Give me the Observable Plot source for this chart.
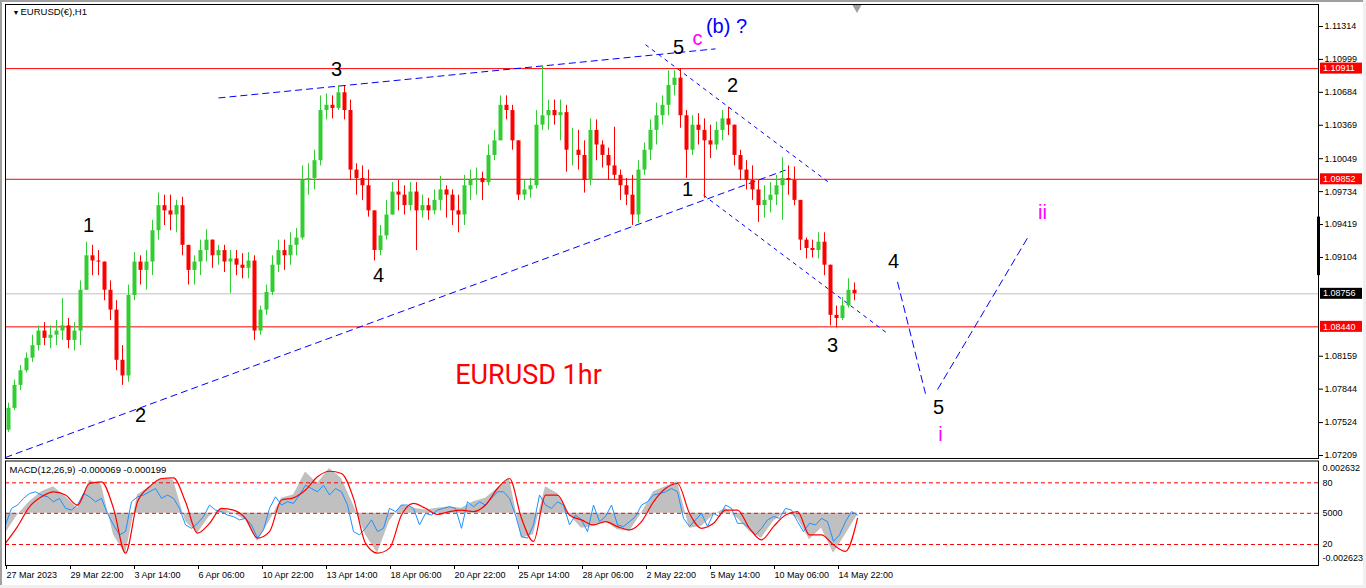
<!DOCTYPE html>
<html><head><meta charset="utf-8">
<script src="https://cdn.jsdelivr.net/npm/d3@7"></script>
<script src="https://cdn.jsdelivr.net/npm/@observablehq/plot@0.6"></script>
<style>
html,body{margin:0;padding:0;background:#fff;width:1366px;height:588px;overflow:hidden;font-family:"Liberation Sans",Arial,sans-serif;}
#wrap{position:relative;width:1366px;height:588px;}
#main{position:absolute;left:0;top:0;}
#macd{position:absolute;left:0;top:460px;}
.edge{position:absolute;}
</style></head><body>
<div id="wrap"><div id="main"></div><div id="macd"></div>
<div class="edge" style="left:0;top:0;width:1366px;height:2px;background:#a0a0a0"></div>
<div class="edge" style="left:0;top:0;width:2px;height:588px;background:#a0a0a0"></div>
<div class="edge" style="left:1363px;top:0;width:3px;height:588px;background:#f0f0f0"></div>
<div class="edge" style="left:0;top:585px;width:1366px;height:3px;background:#f0f0f0"></div>
</div>
<script>
// ---------- DATA ----------
const BARS_PER_CANDLE = 6;           // each drawn candle summarises 6 hourly bars
const firstOpen = 1.0745;
const candleHigh = [
1.0771,1.0793,1.0807,1.0819,1.0836,1.0845,1.0848,1.0845,1.0850,1.0871,
1.0852,1.0848,1.0888,1.0925,1.0922,1.0917,1.0906,1.0888,1.0869,1.0826,
1.0884,1.0915,1.0912,1.0917,1.0946,1.0972,1.0970,1.0970,1.0965,1.0968,
1.0922,1.0912,1.0927,1.0937,1.0924,1.0922,1.0922,1.0917,1.0917,1.0914,
1.0915,1.0912,1.0864,1.0884,1.0912,1.0927,1.0927,1.0934,1.0938,1.0998,
1.1000,1.1013,1.1065,1.1067,1.1065,1.1075,1.1074,1.1061,1.1000,1.0998,
1.0994,1.0955,1.0941,1.0965,1.0982,1.0984,1.0979,1.0982,1.0982,1.0970,
1.0967,1.0975,1.0988,1.0979,1.0975,1.0970,1.0989,1.0994,1.0996,1.0992,
1.1018,1.1032,1.1065,1.1065,1.1056,1.1022,1.0984,1.0986,1.1051,1.1094,
1.1061,1.1061,1.1061,1.1056,1.1034,1.1032,1.1022,1.1043,1.1042,1.1022,
1.1015,1.1035,1.0994,1.0986,1.0989,1.1003,1.1020,1.1042,1.1058,1.1065,
1.1089,1.1089,1.1091,1.1051,1.1046,1.1048,1.1043,1.1037,1.1040,1.1051,
1.1054,1.1034,1.1013,1.1003,1.0998,1.0984,1.0979,1.0982,1.0989,1.1006,
1.0998,1.0997,1.0965,1.0929,1.0927,1.0934,1.0934,1.0903,1.0864,1.0872,
1.0890,1.0886];
const candleLow = [
1.0743,1.0764,1.0783,1.0800,1.0810,1.0821,1.0826,1.0823,1.0826,1.0831,
1.0823,1.0821,1.0826,1.0879,1.0893,1.0893,1.0869,1.0850,1.0802,1.0788,
1.0791,1.0869,1.0884,1.0879,1.0893,1.0927,1.0941,1.0936,1.0934,1.0912,
1.0884,1.0884,1.0893,1.0906,1.0900,1.0903,1.0896,1.0876,1.0893,1.0890,
1.0890,1.0831,1.0836,1.0855,1.0874,1.0896,1.0898,1.0903,1.0912,1.0927,
1.0970,1.0975,1.0998,1.1042,1.1043,1.1051,1.1042,1.0984,1.0970,1.0965,
1.0949,1.0907,1.0912,1.0927,1.0951,1.0955,1.0951,1.0955,1.0917,1.0948,
1.0946,1.0951,1.0955,1.0948,1.0941,1.0934,1.0941,1.0965,1.0970,1.0965,
1.0979,1.1003,1.1022,1.1042,1.1013,1.0965,1.0965,1.0967,1.0976,1.1032,
1.1032,1.1037,1.1022,1.0992,1.0998,1.0994,1.0972,1.0979,1.1003,1.0996,
1.0984,1.0984,1.0965,1.0960,1.0941,1.0943,1.0989,1.1003,1.1018,1.1037,
1.1046,1.1065,1.1034,1.0986,1.1008,1.1018,1.0967,1.1005,1.1013,1.1022,
1.1027,1.0998,1.0984,1.0975,1.0965,1.0944,1.0948,1.0953,1.0960,1.0946,
1.0970,1.0960,1.0917,1.0909,1.0910,1.0909,1.0893,1.0845,1.0843,1.0850,
1.0862,1.0869];
const candleClose = [
1.0766,1.0788,1.0802,1.0814,1.0826,1.0840,1.0833,1.0836,1.0840,1.0845,
1.0831,1.0840,1.0879,1.0912,1.0907,1.0906,1.0879,1.0860,1.0812,1.0797,
1.0874,1.0906,1.0898,1.0906,1.0936,1.0960,1.0955,1.0951,1.0960,1.0922,
1.0898,1.0906,1.0917,1.0927,1.0912,1.0917,1.0906,1.0909,1.0903,1.0900,
1.0907,1.0840,1.0860,1.0877,1.0903,1.0917,1.0912,1.0922,1.0929,1.0984,
1.0986,1.1003,1.1051,1.1056,1.1053,1.1068,1.1051,1.0994,1.0986,1.0979,
1.0955,1.0917,1.0931,1.0951,1.0973,1.0970,1.0960,1.0973,1.0955,1.0960,
1.0955,1.0965,1.0975,1.0970,1.0955,1.0951,1.0979,1.0984,1.0986,1.0982,
1.1008,1.1022,1.1056,1.1051,1.1022,1.0970,1.0975,1.0979,1.1037,1.1046,
1.1051,1.1046,1.1049,1.1013,1.1013,1.1008,1.0984,1.1032,1.1018,1.1008,
1.0998,1.0989,1.0979,1.0970,1.0951,1.0994,1.1013,1.1032,1.1046,1.1056,
1.1075,1.1082,1.1046,1.1013,1.1037,1.1032,1.1022,1.1018,1.1032,1.1043,
1.1037,1.1008,1.0994,1.0984,1.0975,1.0960,1.0965,1.0970,1.0979,1.0986,
1.0984,1.0965,1.0927,1.0919,1.0917,1.0925,1.0903,1.0855,1.0852,1.0864,
1.0879,1.08756];

// MACD panel: histogram (every 12 bars), signal (every 12 bars), fast line (every 6 bars)
const histStep = 12;
const histVals = [
-0.00115,-0.00010,0.00067,0.00125,0.00154,0.00096,0.00029,0.00192,0.00163,-0.00125,
-0.00240,0.00106,0.00154,0.00202,0.00192,-0.00048,-0.00115,-0.00019,0.00029,0.00000,
-0.00038,-0.00163,-0.00048,0.00087,0.00106,0.00240,0.00173,0.00260,0.00202,0.00048,
-0.00125,-0.00231,-0.00048,0.00048,0.00029,0.00019,0.00029,0.00038,0.00029,0.00067,
0.00087,0.00144,0.00202,-0.00144,-0.00125,0.00154,0.00115,-0.00010,-0.00087,-0.00077,
-0.00048,-0.00096,-0.00106,0.00000,0.00125,0.00154,0.00183,-0.00087,-0.00077,-0.00010,
0.00029,-0.00029,-0.00106,-0.00144,-0.00048,0.00010,-0.00029,-0.00154,-0.00087,-0.00231,
-0.00125,-0.00010];
const signalVals = [
-0.00173,-0.00077,0.00038,0.00096,0.00125,0.00106,0.00048,0.00173,0.00183,0.00029,
-0.00231,0.00067,0.00154,0.00202,0.00206,0.00067,-0.00115,-0.00058,0.00029,0.00019,
-0.00029,-0.00144,-0.00106,0.00077,0.00090,0.00135,0.00212,0.00244,0.00231,0.00087,
-0.00173,-0.00231,-0.00202,-0.00010,0.00058,0.00029,-0.00006,0.00010,0.00019,0.00010,
0.00048,0.00144,0.00202,-0.00029,-0.00163,0.00106,0.00106,-0.00010,-0.00038,-0.00067,
-0.00048,-0.00077,-0.00096,-0.00048,0.00067,0.00144,0.00173,0.00000,-0.00087,-0.00058,
0.00019,0.00019,-0.00087,-0.00154,-0.00077,-0.00010,0.00010,-0.00125,-0.00125,-0.00183,
-0.00221,-0.00029];
const blueStep = 6;
const blueVals = [
-0.00067,0.00029,0.00048,0.00087,0.00115,0.00125,0.00106,0.00096,0.00067,0.00087,
0.00029,0.00019,0.00048,0.00115,0.00096,0.00067,0.00087,0.00000,-0.00067,-0.00125,
-0.00106,0.00067,0.00096,0.00106,0.00125,0.00144,0.00087,0.00106,0.00087,0.00029,
-0.00067,-0.00087,-0.00058,-0.00019,0.00048,0.00019,0.00010,-0.00010,-0.00019,-0.00038,
-0.00029,-0.00067,-0.00144,-0.00096,0.00029,0.00096,0.00048,0.00067,0.00058,0.00106,
0.00163,0.00144,0.00125,0.00163,0.00106,0.00144,0.00125,0.00048,-0.00106,-0.00125,
-0.00087,-0.00038,-0.00106,-0.00087,0.00029,0.00010,0.00048,0.00048,0.00029,-0.00067,
0.00000,-0.00010,0.00019,0.00029,0.00038,0.00029,-0.00087,0.00067,0.00038,0.00067,
0.00048,0.00087,0.00125,0.00125,0.00087,-0.00010,-0.00135,-0.00144,-0.00067,0.00106,
0.00048,0.00029,0.00067,0.00048,-0.00067,-0.00010,-0.00038,-0.00106,0.00048,-0.00048,
-0.00019,0.00048,-0.00067,-0.00077,-0.00048,-0.00019,0.00048,0.00067,0.00106,0.00115,
0.00125,0.00144,0.00125,-0.00029,-0.00077,-0.00038,0.00000,-0.00077,0.00000,-0.00019,
0.00048,0.00029,-0.00058,-0.00058,-0.00087,-0.00125,-0.00087,-0.00038,-0.00019,-0.00029,
0.00029,0.00019,-0.00048,-0.00106,-0.00058,-0.00067,-0.00029,-0.00048,-0.00163,-0.00125,
-0.00048,0.00010,-0.00010];
const macdLevels = [0.00177, 0, -0.00181];
const macdTickVals = [0.002632, 0.00177, 0, -0.00181, -0.002623];
const macdTickLabels = ["0.002632", "80", "5000", "20", "-0.002623"];

// axes (1.08789 and 1.08474 are hidden behind the price tags in the reference)
const priceTicks = [1.11314,1.10999,1.10684,1.10369,1.10049,1.09734,1.09419,1.09104,1.08159,1.07844,1.07524,1.07209];
const dateTicks = [0,64,128,192,256,320,384,448,512,576,640,704,768,832];
const dateLabels = ["27 Mar 2023","29 Mar 22:00","3 Apr 14:00","6 Apr 06:00","10 Apr 22:00","13 Apr 14:00","18 Apr 06:00","20 Apr 22:00","25 Apr 14:00","28 Apr 06:00","2 May 22:00","5 May 14:00","10 May 06:00","14 May 22:00"];

// horizontal levels
const redLevels = [1.10911, 1.09852, 1.08440];
const lastPrice = 1.08756;
const priceTags = [
  {v:1.10911, bg:"#ff0000"}, {v:1.09852, bg:"#ff0000"},
  {v:1.08756, bg:"#000000"}, {v:1.08440, bg:"#ff0000"}];
const scrollMarker = [1.0949, 1.0893];

// wave annotations (bar index, price)
const waveText  = ["3","5","c","(b) ?","2","1","1","4","2","3","4","5","i","ii"];
const waveBar   = [331,673,692,721,727,83,682,373,135,827,888,933,935,1037];
const wavePrice = [1.1090,1.1111,1.1120,1.1131,1.1075,1.0941,1.0975,1.0893,1.0759,1.0826,1.0906,1.0767,1.0741,1.0953];
const waveColor = ["#000","#000","#ff00ff","#0000ff","#000","#000","#000","#000","#000","#000","#000","#000","#ff00ff","#ff00ff"];

// trend lines (bar index, price)
const lineBar1   = [213, 0,   640, 698, 892, 932];
const linePrice1 = [1.1063,1.0719,1.1114,1.0970,1.0887,1.0784];
const lineBar2   = [710, 780, 825, 883, 920, 1022];
const linePrice2 = [1.1110,1.0994,1.0981,1.0837,1.0780,1.0929];
const lineDash   = ["7,4","7,4","4,4","4,4","8,4","8,4"];

// ---------- BUILD ----------
const GREEN = "#32cd32", RED = "#ff0000";
const candles = candleClose.map((c, k) => {
  const o = k === 0 ? firstOpen : candleClose[k - 1];
  return {x: k * BARS_PER_CANDLE + BARS_PER_CANDLE / 2, open: o, close: c,
    high: Math.max(candleHigh[k], o, c), low: Math.min(candleLow[k], o, c), up: c >= o};
});
const waves = waveText.map((t, i) => ({t, x: waveBar[i], y: wavePrice[i], c: waveColor[i]}));
const tlines = lineBar1.map((b, i) => ({x1: b, y1: linePrice1[i], x2: lineBar2[i], y2: linePrice2[i], d: lineDash[i]}));
const font = "Liberation Sans, Arial, sans-serif";
const linkOpts = d => ({x1: "x1", y1: "y1", x2: "x2", y2: "y2", stroke: "#0000ff", strokeWidth: 1, strokeDasharray: d});

const main = Plot.plot({
  width: 1366, height: 460,
  marginLeft: 5, marginRight: 48, marginTop: 4, marginBottom: 2,
  x: {domain: [0, 1313], axis: null},
  y: {domain: [1.071803, 1.115245], axis: null},
  style: {fontFamily: font, fontSize: "9px", background: "transparent", overflow: "visible"},
  marks: [
    Plot.ruleY(redLevels, {stroke: RED, strokeWidth: 1}),
    Plot.ruleY([lastPrice], {stroke: "#c0c0c0", strokeWidth: 1}),
    ...lineDash.filter((d, i, a) => a.indexOf(d) === i).map(d => Plot.link(tlines.filter(t => t.d === d), linkOpts(d))),
    Plot.ruleX(candles, {x: "x", y1: "low", y2: "high", stroke: d => d.up ? GREEN : RED, strokeWidth: 1}),
    Plot.ruleX(candles, {x: "x", y1: "open", y2: "close", stroke: d => d.up ? GREEN : RED, strokeWidth: 4}),
    Plot.text(waves, {x: "x", y: "y", text: "t", fill: "c", fontSize: 20, fontFamily: font}),
    Plot.text(["EURUSD 1hr"], {x: 523, y: 1.0798, text: d => d, fill: RED, fontSize: 27, fontFamily: "Roboto, sans-serif"}),
    Plot.text(["▼"], {frameAnchor: "top-left", dx: 7, dy: 6, text: d => d, fontSize: 7, lineAnchor: "top"}),
    Plot.text(["EURUSD(€),H1"], {frameAnchor: "top-left", dx: 15, dy: 4, text: d => d, fontSize: 9.5, textAnchor: "start", lineAnchor: "top"}),
    Plot.dot([0], {frameAnchor: "top", dx: 195, dy: 3, symbol: "triangle", r: 3.5, rotate: 180, fill: "#a0a0a0", stroke: null}),
    Plot.frame({stroke: "#000"}),
    Plot.axisY(priceTicks, {anchor: "right", tickSize: 4, tickPadding: 2, tickFormat: d => d.toFixed(5), label: null})
  ]
});
document.getElementById("main").appendChild(main);

// price tags + scroll marker on right scale
{
  const ys = main.scale("y");
  const svg = d3.select(main);
  const g = svg.append("g").attr("text-anchor", "start");
  priceTags.forEach(t => {
    const y = ys.apply(t.v);
    g.append("rect").attr("x", 1320).attr("y", y - 5.5).attr("width", 42).attr("height", 11).attr("fill", t.bg);
    g.append("text").attr("x", 1323).attr("y", y).attr("dy", "0.35em").attr("fill", "#fff")
      .attr("text-anchor", "start").attr("font-size", 9).attr("font-family", font).text(t.v.toFixed(5));
  });
  g.append("rect").attr("x", 1317).attr("y", ys.apply(scrollMarker[0])).attr("width", 3)
    .attr("height", ys.apply(scrollMarker[1]) - ys.apply(scrollMarker[0])).attr("fill", "#000");
}

const histData = histVals.map((v, j) => ({x: j * histStep, v}));
const sigData = signalVals.map((v, j) => ({x: j * histStep, v}));
const blueData = blueVals.map((v, i) => ({x: i * blueStep, v}));

const macd = Plot.plot({
  width: 1366, height: 128,
  marginLeft: 5, marginRight: 48, marginTop: 0.5, marginBottom: 23,
  x: {domain: [0, 1313], axis: null},
  y: {domain: [-0.003027, 0.003036], axis: null},
  style: {fontFamily: font, fontSize: "9px", background: "transparent", overflow: "visible"},
  marks: [
    Plot.areaY(histData, {x: "x", y: "v", fill: "#c0c0c0"}),
    Plot.ruleY(macdLevels, {stroke: RED, strokeDasharray: "4,3", strokeWidth: 1}),
    Plot.line(blueData, {x: "x", y: "v", stroke: "#1e90ff", strokeWidth: 1}),
    Plot.line(sigData, {x: "x", y: "v", stroke: RED, strokeWidth: 1.2, curve: "monotone-x"}),
    Plot.text(["MACD(12,26,9) -0.000069 -0.000199"], {frameAnchor: "top-left", dx: 4, dy: 5, text: d => d, fontSize: 9.5, textAnchor: "start", lineAnchor: "top"}),
    Plot.frame({stroke: "#000"}),
    Plot.axisY(macdTickVals, {anchor: "right", tickSize: 0, tickPadding: 4, tickFormat: d => macdTickLabels[macdTickVals.indexOf(d)], label: null}),
    Plot.axisX(dateTicks, {anchor: "bottom", tickSize: 4, tickPadding: 2, textAnchor: "start", dx: 1, tickFormat: d => dateLabels[dateTicks.indexOf(d)], label: null})
  ]
});
document.getElementById("macd").appendChild(macd);
</script>
</body></html>
